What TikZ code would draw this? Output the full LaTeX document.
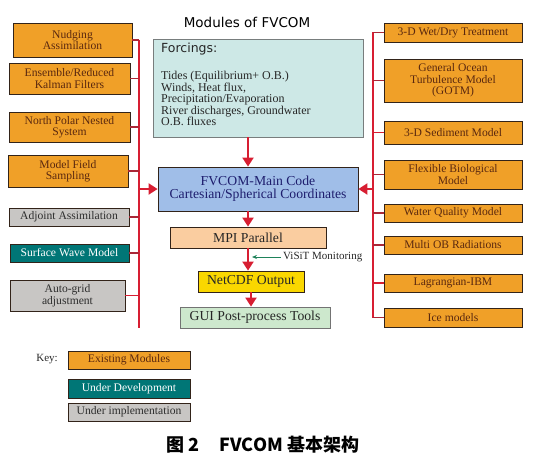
\documentclass[tikz,border=0pt]{standalone}
\usepackage{fontspec}
\setmainfont{Liberation Serif}
\newfontfamily\sansf{DejaVu Sans}
\newfontfamily\cjk{Noto Sans CJK SC}
\usetikzlibrary{arrows.meta}
\definecolor{orangebox}{RGB}{240,160,40}
\definecolor{orangetext}{RGB}{90,40,15}
\definecolor{tealbox}{RGB}{0,118,118}
\definecolor{graybox}{RGB}{200,198,196}
\definecolor{graytext}{RGB}{45,45,45}
\definecolor{forcefill}{RGB}{205,232,230}
\definecolor{forceline}{RGB}{120,125,125}
\definecolor{mainfill}{RGB}{160,190,232}
\definecolor{maintext}{RGB}{30,30,110}
\definecolor{mpifill}{RGB}{250,205,160}
\definecolor{netfill}{RGB}{250,215,0}
\definecolor{guifill}{RGB}{205,232,205}
\definecolor{linered}{RGB}{215,30,50}
\definecolor{stubred}{RGB}{170,40,55}
\definecolor{boxline}{RGB}{50,35,25}
\definecolor{visitgreen}{RGB}{30,130,90}
\begin{document}
\begin{tikzpicture}[x=1pt,y=-1pt,
  mod/.style={draw=boxline, line width=0.8pt, inner sep=1pt, align=center,
    font=\fontsize{11.6}{11.5}\selectfont, text=orangetext},
  existing/.style={mod, fill=orangebox},
  develop/.style={mod, fill=tealbox, text=white},
  implement/.style={mod, fill=graybox, text=graytext},
  flowbox/.style={draw=boxline, line width=0.8pt, inner sep=1pt, align=center,
    font=\fontsize{13.7}{13}\selectfont},
  trunk/.style={draw=linered, line width=2pt},
  stub/.style={draw=stubred, line width=1.6pt},
  redarrow/.style={draw=linered, line width=2pt, -{Triangle[width=11pt,length=9pt]}},
  greenarrow/.style={draw=visitgreen, line width=0.7pt, -{Stealth[width=4pt,length=5pt]}}
]
\useasboundingbox (0,0) rectangle (535,460);

% title
\node[font=\sansf\fontsize{13.5}{14}\selectfont] (title) at (247,22) {Modules of FVCOM};

% left modules
\node[existing, minimum width=119, minimum height=34] (nudge) at (72.5,40) {Nudging\\Assimilation};
\node[existing, minimum width=121, minimum height=31] (ens) at (69.5,78.5) {Ensemble/Reduced\\Kalman Filters};
\node[existing, minimum width=121, minimum height=30] (npolar) at (69.5,127) {North Polar Nested\\System};
\node[existing, minimum width=120, minimum height=32] (mfield) at (68,171) {Model Field\\Sampling};
\node[implement, minimum width=120, minimum height=18] (adjoint) at (69,217) {Adjoint Assimilation};
\node[develop, minimum width=119, minimum height=18] (swave) at (69.5,253) {Surface Wave Model};
\node[implement, minimum width=115, minimum height=31] (autogrid) at (67.5,295.5) {Auto-grid\\adjustment};

% right modules
\node[existing, minimum width=138, minimum height=19] (wetdry) at (453,32.5) {3-D Wet/Dry Treatment};
\node[existing, minimum width=138, minimum height=43] (gotm) at (453,80.5) {General Ocean\\Turbulence Model\\(GOTM)};
\node[existing, minimum width=138, minimum height=23] (sed) at (453,132.5) {3-D Sediment Model};
\node[existing, minimum width=138, minimum height=29] (bio) at (453,174.5) {Flexible Biological\\Model};
\node[existing, minimum width=138, minimum height=18] (water) at (453,213) {Water Quality Model};
\node[existing, minimum width=138, minimum height=18] (multiob) at (453,245) {Multi OB Radiations};
\node[existing, minimum width=138, minimum height=18] (lagr) at (453,283) {Lagrangian-IBM};
\node[existing, minimum width=138, minimum height=19] (ice) at (453,317.5) {Ice models};

% trunks
\coordinate (ltop) at (139,40);
\coordinate (lbot) at (139,328);
\coordinate (rtop) at (373,32.5);
\coordinate (rbot) at (373,317.5);
\draw[trunk] (ltop) -- (lbot);
\draw[trunk] (rtop) -- (rbot);

\foreach \n in {nudge,ens,npolar,mfield,adjoint,swave}
  \draw[stub] (\n.east) -- (\n.east -| ltop);
\draw[trunk, line width=1.6pt] (autogrid.east) -- (autogrid.east -| ltop);
\foreach \n in {wetdry,gotm,bio,water,multiob,ice}
  \draw[stub] (\n.west) -- (\n.west -| rtop);
\draw[trunk, line width=1.6pt] (sed.west) -- (sed.west -| rtop);
\draw[trunk, line width=1.6pt] (lagr.west) -- (lagr.west -| rtop);

% forcings
\node[draw=forceline, fill=forcefill, line width=0.8pt, minimum width=210, minimum height=98] (forc) at (258,88) {};
\node[anchor=west, inner sep=0pt, font=\sansf\fontsize{12.5}{13}\selectfont, text=black!85] (forctitle) at (161,49) {Forcings:};
\node[anchor=north west, inner sep=0pt, align=left, text=black!85,
  font=\fontsize{12}{11.5}\selectfont] (forclist) at (161,71)
  {Tides (Equilibrium+ O.B.)\\Winds, Heat flux,\\Precipitation/Evaporation\\River discharges, Groundwater\\O.B. fluxes};

% central flow
\node[flowbox, fill=mainfill, text=maintext, minimum width=200, minimum height=44] (main) at (258,189)
  {FVCOM-Main Code\\Cartesian/Spherical Coordinates};
\node[flowbox, fill=mpifill, text=black!85, minimum width=156, minimum height=21] (mpi) at (248,237.5) {MPI Parallel};
\node[flowbox, fill=netfill, text=black!85, minimum width=106, minimum height=21] (net) at (251,281.5) {NetCDF Output};
\node[flowbox, fill=guifill, draw=black!55, text=black!85, minimum width=150, minimum height=21] (gui) at (255,317.5) {GUI Post-process Tools};

\draw[redarrow] (forc.south -| mpi.north) -- (main.north -| mpi.north);
\draw[redarrow] (main.south -| mpi.north) -- (mpi.north);
\draw[redarrow] (mpi.south) -- (mpi.south |- net.north);
\draw[redarrow] (net.south) -- (net.south |- gui.north);
\draw[redarrow] (main.west -| ltop) -- (main.west);
\draw[redarrow] (main.east -| rtop) -- (main.east);

% ViSiT
\node[anchor=west, inner sep=0pt, font=\fontsize{11}{11}\selectfont, text=black!85] (visit) at (283,257) {ViSiT Monitoring};
\coordinate (visitend) at (252,257);
\draw[greenarrow] ([xshift=-2pt]visit.west) -- (visitend);

% key
\node[font=\fontsize{11}{11}\selectfont, text=black!85] (keylab) at (47,359) {Key:};
\node[existing, minimum width=122, minimum height=18] (k1) at (129,360) {Existing Modules};
\node[develop, minimum width=122, minimum height=19] (k2) at (129,388.5) {Under Development};
\node[implement, minimum width=122, minimum height=18] (k3) at (129,412) {Under implementation};

% caption
\node[font=\cjk\bfseries\fontsize{18}{19}\selectfont, text=black] (cap) at (263,445) {图 2\hspace{20pt}FVCOM 基本架构};
\end{tikzpicture}
\end{document}
